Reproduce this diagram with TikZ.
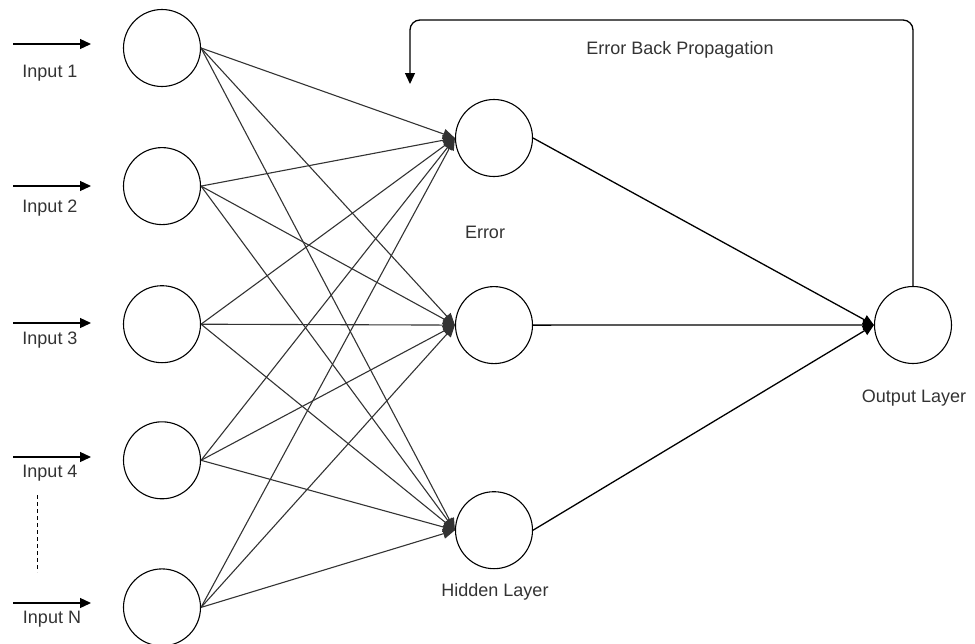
\documentclass[tikz,border=0pt]{standalone}
\usepackage{fontspec}
\setmainfont{Liberation Sans}
\usetikzlibrary{arrows.meta, positioning}

\begin{document}
\begin{tikzpicture}[x=1pt, y=-1pt, node distance=60pt,
    neuron/.style={circle, draw, line width=1.1pt, minimum size=77pt, inner sep=0pt},
    lbl/.style={text=black!80, font=\fontsize{18}{21}\selectfont},
    syn/.style={-{Triangle[length=12pt,width=10pt]}, draw=black!80, line width=1.1pt},
    wire/.style={-{Triangle[length=11pt,width=10pt]}, line width=1.3pt}]
    \useasboundingbox (0,0) rectangle (975,643);

    % input layer
    \node[neuron] (in1) at (162,48) {};
    \node[neuron, below=of in1] (in2) {};
    \node[neuron, below=of in2] (in3) {};
    \node[neuron, below=58pt of in3] (in4) {};
    \node[neuron, below=69pt of in4] (in5) {};

    % hidden and output layer
    \node[neuron] (h1) at (494,138) {};
    \node[neuron, below=109pt of h1] (h2) {};
    \node[neuron, below=127pt of h2] (h3) {};
    \node[neuron] (o) at (913,325) {};

    \foreach \i in {1,...,5}
        \foreach \j in {1,2,3}
            \draw[syn] (in\i.east) -- (h\j.west);
    \foreach \j in {1,2,3}
        \draw[wire] (h\j.east) -- (o.west);

    % inputs
    \foreach \i/\y in {1/44, 2/186, 3/323, 4/457, 5/603} {
        \coordinate (src\i) at (13,\y);
        \coordinate (dst\i) at (91,\y);
        \draw[wire] (src\i) -- (dst\i);
    }
    \node[lbl] (lab1) at (50,73) {Input 1};
    \node[lbl] (lab2) at (50,208) {Input 2};
    \node[lbl] (lab3) at (50,340) {Input 3};
    \node[lbl] (lab4) at (50,473) {Input 4};
    \node[lbl] (lab5) at (52,619) {Input N};
    \coordinate (dotA) at (37,495);
    \coordinate (dotB) at (37,572);
    \draw[dash pattern=on 4pt off 3pt, line width=1pt] (dotA) -- (dotB);

    % back propagation
    \coordinate (backtop) at (410,20);
    \coordinate (backend) at (410,84);
    \draw[wire, rounded corners=10pt] (o.north) |- (backtop) -- (backend);

    \node[lbl] (bplab) at (680,50) {Error Back Propagation};
    \node[lbl] (errlab) at (485,232) {Error};
    \node[lbl] (hidlab) at (495,592) {Hidden Layer};
    \node[lbl] (outlab) at (914,398) {Output Layer};
\end{tikzpicture}
\end{document}
